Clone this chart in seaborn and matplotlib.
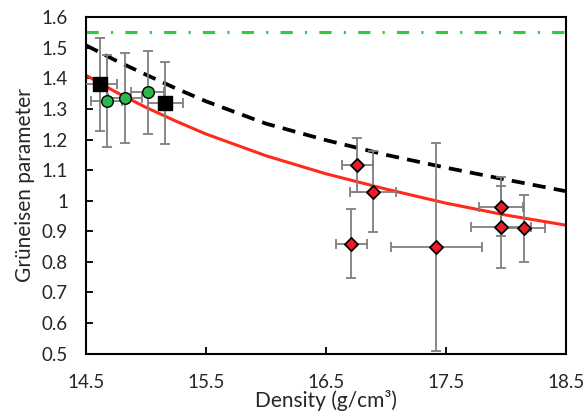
import matplotlib
matplotlib.use('Agg')
import matplotlib.pyplot as plt
import seaborn as sns
import pandas as pd

# sample points
curve_x = [14.5, 14.75, 15.0, 15.25, 15.5, 16.0, 16.5, 17.0, 17.5, 18.0, 18.5]
dashed_y = [1.508, 1.458, 1.412, 1.367, 1.325, 1.252, 1.198, 1.150, 1.108, 1.069, 1.031]
red_y = [1.410, 1.355, 1.305, 1.260, 1.218, 1.147, 1.088, 1.038, 0.992, 0.953, 0.920]
green_level = 1.55

# black squares
sq_x = [14.62, 15.16]
sq_y = [1.380, 1.318]
sq_xerr = [0.14, 0.147]
sq_yerr = [0.153, 0.134]

# green circles
gr_x = [14.672, 14.826, 15.014]
gr_y = [1.326, 1.337, 1.354]
gr_xerr = [0.13, 0.14, 0.14]
gr_yerr = [0.150, 0.147, 0.137]

# red diamonds
rd_x = [16.76, 16.89, 16.71, 17.42, 17.96, 17.96, 18.15]
rd_y = [1.116, 1.030, 0.860, 0.850, 0.980, 0.915, 0.910]
rd_xerr = [0.13, 0.19, 0.13, 0.38, 0.18, 0.25, 0.18]
rd_yerr = [0.088, 0.133, 0.113, 0.340, 0.097, 0.134, 0.110]

sns.set_style('white')
plt.rcParams['font.family'] = ['Lato', 'DejaVu Sans']

fig, ax = plt.subplots(figsize=(5.87, 4.19), dpi=100)
fig.subplots_adjust(left=0.1465, right=0.964, top=0.959, bottom=0.156)

curves = pd.DataFrame({'x': curve_x, 'dashed': dashed_y, 'red': red_y})

ax.axhline(green_level, color='#2ecc40', lw=2.2, dashes=(4, 4, 0.7, 4), zorder=2)
sns.lineplot(data=curves, x='x', y='dashed', ax=ax, color='black', lw=2.7,
             zorder=2).lines[-1].set_dashes((3.5, 2.2))
sns.lineplot(data=curves, x='x', y='red', ax=ax, color='#ff2a1a', lw=2.2, zorder=2)

ebar = dict(fmt='none', ecolor='#7f7f7f', elinewidth=1.3, capsize=3.5, capthick=1.3, zorder=3)
ax.errorbar(sq_x, sq_y, xerr=sq_xerr, yerr=sq_yerr, **ebar)
ax.errorbar(gr_x, gr_y, xerr=gr_xerr, yerr=gr_yerr, **ebar)
ax.errorbar(rd_x, rd_y, xerr=rd_xerr, yerr=rd_yerr, **ebar)

sns.scatterplot(x=sq_x, y=sq_y, ax=ax, marker='s', s=90, color='black',
                edgecolor='black', linewidth=1, zorder=4)
sns.scatterplot(x=gr_x, y=gr_y, ax=ax, marker='o', s=70, color='#2db84d',
                edgecolor='black', linewidth=1, zorder=4)
sns.scatterplot(x=rd_x, y=rd_y, ax=ax, marker='D', s=45, color='#ee1c25',
                edgecolor='black', linewidth=1.3, zorder=4)

ax.set_xlim(14.5, 18.5)
ax.set_ylim(0.5, 1.6)
ax.set_xticks([14.5, 15.5, 16.5, 17.5, 18.5])
ax.set_xticklabels(['14.5', '15.5', '16.5', '17.5', '18.5'])
yt = [0.5, 0.6, 0.7, 0.8, 0.9, 1.0, 1.1, 1.2, 1.3, 1.4, 1.5, 1.6]
ax.set_yticks(yt)
ax.set_yticklabels(['1' if v == 1.0 else f'{v:.1f}' for v in yt])
ax.tick_params(axis='both', direction='in', length=5, width=1.3, colors='black',
               labelsize=13.5, labelcolor='#262626')
ax.tick_params(axis='y', pad=13, left=True)
ax.tick_params(axis='x', pad=15, bottom=True)
for sp in ax.spines.values():
    sp.set_visible(True)
    sp.set_color('black')
    sp.set_linewidth(1.5)

ax.set_xlabel('Density (g/cm³)', fontsize=15, color='#262626', labelpad=-1)
ax.set_ylabel('Grüneisen parameter', fontsize=15, color='#262626', labelpad=5)

fig.savefig('out.png', dpi=100)
